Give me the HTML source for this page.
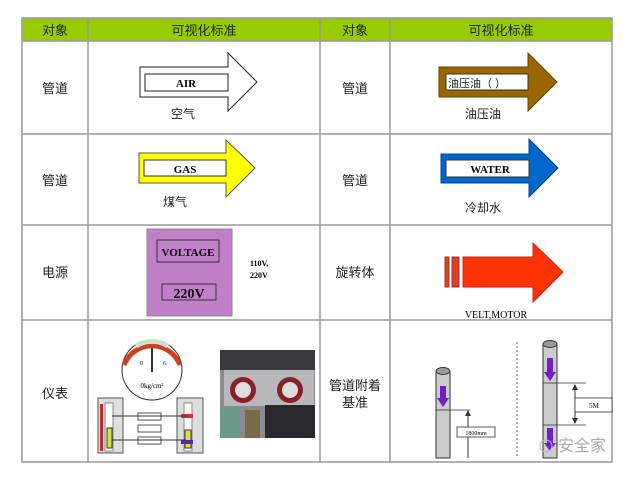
<!DOCTYPE html>
<html><head><meta charset="utf-8"><style>
body{margin:0;width:640px;height:480px;background:#fff;overflow:hidden}
svg text{font-family:"Liberation Serif","Noto Sans CJK SC",serif}
.cn{font-family:"Liberation Sans","Noto Sans CJK SC",sans-serif}
</style></head><body>
<svg width="640" height="480" viewBox="0 0 640 480">
<rect x="22" y="18" width="590" height="23" fill="#99cc00"/>
<g stroke="#999" stroke-width="1.5" fill="none">
<rect x="22" y="18" width="590" height="444"/>
<line x1="22" y1="41" x2="612" y2="41"/>
<line x1="22" y1="134" x2="612" y2="134"/>
<line x1="22" y1="225" x2="612" y2="225"/>
<line x1="22" y1="320" x2="612" y2="320"/>
<line x1="88" y1="18" x2="88" y2="462"/>
<line x1="320" y1="18" x2="320" y2="462"/>
<line x1="390" y1="18" x2="390" y2="462"/>
</g>
<g class="cn" font-size="13" fill="#222" text-anchor="middle">
<text x="55" y="35">对象</text><text x="204" y="35">可视化标准</text>
<text x="355" y="35">对象</text><text x="501" y="35">可视化标准</text>
<text x="55" y="93">管道</text><text x="355" y="93">管道</text>
<text x="55" y="185">管道</text><text x="355" y="185">管道</text>
<text x="55" y="277">电源</text><text x="355" y="277">旋转体</text>
<text x="55" y="398">仪表</text>
<text x="355" y="390">管道附着</text><text x="355" y="407">基准</text>
<text x="183" y="118" font-size="12">空气</text>
<text x="483" y="118" font-size="12">油压油</text>
<text x="175" y="206" font-size="12">煤气</text>
<text x="483" y="212" font-size="12">冷却水</text>
</g>
<!-- AIR -->
<polygon points="140,67 228,67 228,53 257,82 228,111 228,97 140,97" fill="#fff" stroke="#222"/>
<rect x="145" y="74" width="83" height="17" fill="#fff" stroke="#222"/>
<text x="186" y="87" font-size="11" font-weight="bold" text-anchor="middle">AIR</text>
<!-- oil -->
<polygon points="439,67 528,67 528,53 557,82 528,111 528,97 439,97" fill="#996600" stroke="#664400"/>
<rect x="446" y="74" width="82" height="16" fill="#fff" stroke="#333"/>
<text x="448" y="87" font-size="11" class="cn" fill="#222">油压油（  ）</text>
<!-- GAS -->
<polygon points="139,153 226,153 226,140 255,168 226,197 226,183 139,183" fill="#ffff00" stroke="#555"/>
<rect x="144" y="160" width="82" height="16" fill="#fff" stroke="#333"/>
<text x="185" y="173" font-size="11" font-weight="bold" text-anchor="middle">GAS</text>
<!-- WATER -->
<polygon points="441,154 529,154 529,139 558,168 529,197 529,183 441,183" fill="#0066cc" stroke="#004a99"/>
<rect x="446" y="160" width="83" height="17" fill="#fff" stroke="#333"/>
<text x="490" y="173" font-size="11" font-weight="bold" text-anchor="middle">WATER</text>
<!-- Voltage -->
<rect x="147" y="229" width="85" height="87" fill="#c080c8" stroke="#888"/>
<rect x="157" y="240" width="62" height="22" fill="none" stroke="#333"/>
<text x="188" y="256" font-size="11" font-weight="bold" text-anchor="middle">VOLTAGE</text>
<rect x="162" y="284" width="54" height="16" fill="none" stroke="#333"/>
<text x="189" y="298" font-size="14" font-weight="bold" text-anchor="middle">220V</text>
<text x="250" y="266" font-size="8" font-weight="bold">110V,</text>
<text x="250" y="278" font-size="8" font-weight="bold">220V</text>
<!-- Red -->
<rect x="445" y="257" width="4" height="30" fill="#e04020" stroke="#933"/>
<rect x="452" y="257" width="7" height="30" fill="#e04020" stroke="#933"/>
<polygon points="463,257 533,257 533,243 563,272 533,302 533,287 463,287" fill="#ff3300" stroke="#c22"/>
<text x="496" y="318" font-size="10" text-anchor="middle">VELT,MOTOR</text>
<!-- gauge -->
<circle cx="152" cy="370" r="30" fill="#fff" stroke="#333"/>
<path d="M124,365 A30,30 0 0 1 180,365" fill="none" stroke="#d04020" stroke-width="5"/>
<path d="M136,346 A30,30 0 0 1 168,346" fill="none" stroke="#cde0cc" stroke-width="5"/>
<line x1="152" y1="372" x2="152" y2="348" stroke="#333" stroke-width="2"/>
<text x="152" y="388" font-size="7" text-anchor="middle">0kg/cm²</text>
<text x="140" y="365" font-size="6">0</text><text x="163" y="365" font-size="6">6</text>
<!-- level indicators -->
<g stroke="#555" fill="#ddd">
<rect x="98" y="398" width="25" height="55"/><rect x="177" y="398" width="26" height="55"/>
<rect x="138" y="413" width="23" height="7" fill="#fff"/><rect x="138" y="425" width="23" height="7" fill="#fff"/><rect x="138" y="437" width="23" height="7" fill="#fff"/>
</g>
<rect x="100" y="404" width="3" height="47" fill="#c03030"/>
<rect x="105" y="403" width="8" height="48" fill="#fff" stroke="#888"/>
<rect x="107" y="428" width="5" height="20" fill="#dddd44" stroke="#333"/>
<rect x="184" y="403" width="8" height="48" fill="#fff" stroke="#888"/>
<rect x="185" y="430" width="6" height="18" fill="#dddd44" stroke="#333"/>
<rect x="181" y="414" width="12" height="4" fill="#d03030"/>
<rect x="181" y="440" width="12" height="4" fill="#6020c0"/>
<line x1="112" y1="416" x2="186" y2="416" stroke="#333"/>
<line x1="112" y1="440" x2="186" y2="440" stroke="#333"/>
<!-- photo -->
<rect x="220" y="350" width="95" height="88" fill="#8a8c90"/>
<rect x="220" y="350" width="95" height="20" fill="#3a3a3e"/>
<rect x="224" y="370" width="90" height="36" fill="#b8b8bc"/>
<circle cx="243" cy="390" r="13" fill="#8a2028"/><circle cx="243" cy="390" r="8" fill="#ddd"/>
<circle cx="290" cy="390" r="13" fill="#8a2028"/><circle cx="290" cy="390" r="8" fill="#ddd"/>
<rect x="220" y="408" width="20" height="30" fill="#6a9a8a"/>
<rect x="245" y="410" width="15" height="28" fill="#7a6a4a"/>
<rect x="265" y="405" width="50" height="33" fill="#2a2a2e"/>
<!-- pipes -->
<rect x="436" y="372" width="14" height="86" fill="#ccc" stroke="#333"/>
<ellipse cx="443" cy="371" rx="7" ry="3.5" fill="#999" stroke="#333"/>
<polygon points="440,386 446,386 446,398 449,398 443,407 437,398 440,398" fill="#7020c0"/>
<line x1="436" y1="410" x2="470" y2="410" stroke="#333" stroke-width="0.8"/>
<line x1="468" y1="458" x2="468" y2="411" stroke="#333"/><polygon points="465,416 468,410 471,416" fill="#333"/>
<rect x="457" y="427" width="38" height="10" fill="#fff" stroke="#333" stroke-width="0.8"/>
<text x="476" y="435" font-size="6" text-anchor="middle">1800mm</text>
<line x1="517" y1="342" x2="517" y2="458" stroke="#666" stroke-dasharray="2,2"/>
<rect x="543" y="345" width="14" height="113" fill="#ccc" stroke="#333"/>
<ellipse cx="550" cy="344" rx="7" ry="3.5" fill="#999" stroke="#333"/>
<polygon points="547,358 553,358 553,372 556,372 550,381 544,372 547,372" fill="#7020c0"/>
<polygon points="547,428 553,428 553,443 556,443 550,451 544,443 547,443" fill="#7020c0"/>
<line x1="543" y1="383" x2="586" y2="383" stroke="#333" stroke-width="0.8"/>
<line x1="543" y1="425" x2="586" y2="425" stroke="#333" stroke-width="0.8"/>
<line x1="575" y1="385" x2="575" y2="423" stroke="#333"/>
<polygon points="572,390 575,384 578,390" fill="#333"/><polygon points="572,418 575,424 578,418" fill="#333"/>
<rect x="575" y="398" width="37" height="14" fill="#fff" stroke="#333" stroke-width="0.8"/>
<text x="594" y="408" font-size="7" text-anchor="middle">5M</text>
<text x="558" y="451" class="cn" font-size="16" fill="#aaa">安全家</text>
<circle cx="546" cy="446" r="6" fill="none" stroke="#bbb"/>
</svg>
</body></html>
